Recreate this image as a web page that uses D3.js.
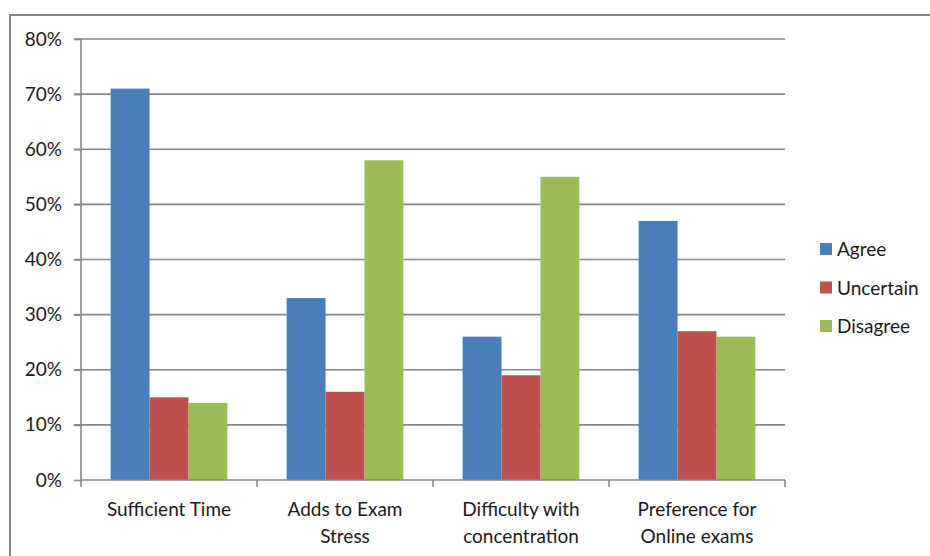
<!DOCTYPE html>
<html>
<head>
<meta charset="utf-8">
<script src="https://cdn.jsdelivr.net/npm/d3@7"></script>
<style>
  body { margin: 0; background: #fff; }
  svg { display: block; }
  text { font-family: Lato, "Open Sans", sans-serif; fill: #1a1a1a; }
</style>
</head>
<body>
<svg width="930" height="556"></svg>
<script>
// Data van de grafiek
const categories = [["Sufficient Time"], ["Adds to Exam", "Stress"], ["Difficulty with", "concentration"], ["Preference for", "Online exams"]];
const seriesNames = ["Agree", "Uncertain", "Disagree"];
const agree = [71, 33, 26, 47];
const uncertain = [15, 16, 19, 27];
const disagree = [14, 58, 55, 26];
const yTicks = [0, 10, 20, 30, 40, 50, 60, 70, 80];
const colors = ["#4a7ebb", "#c0504d", "#9bbb59"];

const svg = d3.select("svg");
const values = [agree, uncertain, disagree];
const fontSize = 19;

// Buitenrand
svg.append("rect")
  .attr("x", 10).attr("y", 15)
  .attr("width", 940).attr("height", 560)
  .attr("fill", "none")
  .attr("stroke", "#868686")
  .attr("stroke-width", 2);

// Schalen
const margin = { left: 81, right: 785, top: 39, bottom: 480 };
const x = d3.scaleBand()
  .domain(d3.range(categories.length))
  .range([margin.left, margin.right]);
const xInner = d3.scaleBand()
  .domain(d3.range(seriesNames.length))
  .range([0, x.bandwidth()])
  .paddingInner(0)
  .paddingOuter(0.76);
const y = d3.scaleLinear().domain([0, 80]).range([margin.bottom, margin.top]);

// Rasterlijnen
svg.append("g")
  .selectAll("line")
  .data(yTicks.filter(d => d > 0))
  .join("line")
  .attr("x1", margin.left - 7)
  .attr("x2", margin.right)
  .attr("y1", d => y(d))
  .attr("y2", d => y(d))
  .attr("stroke", "#868686")
  .attr("stroke-width", 1.6);

// Balken
values.forEach((serie, s) => {
  svg.append("g")
    .selectAll("rect")
    .data(serie)
    .join("rect")
    .attr("x", (d, i) => x(i) + xInner(s))
    .attr("y", d => y(d))
    .attr("width", xInner.bandwidth())
    .attr("height", d => y(0) - y(d))
    .attr("fill", colors[s]);
});

// Y-as
const yAxis = svg.append("g")
  .attr("transform", `translate(${margin.left},0)`)
  .call(d3.axisLeft(y).tickValues(yTicks).tickSize(7).tickPadding(12).tickFormat(d => d + "%"));
yAxis.selectAll("line, path").attr("stroke", "#868686").attr("stroke-width", 1.6);
yAxis.select(".domain").attr("d", `M0,${margin.top}V${margin.bottom}`);
yAxis.selectAll("text").attr("font-size", fontSize).attr("font-family", "Lato").attr("fill", "#1a1a1a");

// X-as
const xAxis = svg.append("g")
  .attr("transform", `translate(0,${margin.bottom})`);
xAxis.append("line")
  .attr("x1", margin.left).attr("x2", margin.right)
  .attr("stroke", "#868686").attr("stroke-width", 1.6);
xAxis.selectAll(".tick")
  .data(d3.range(categories.length + 1))
  .join("line")
  .attr("class", "tick")
  .attr("x1", i => i < categories.length ? x(i) : margin.right)
  .attr("x2", i => i < categories.length ? x(i) : margin.right)
  .attr("y1", 0).attr("y2", 7)
  .attr("stroke", "#868686").attr("stroke-width", 1.6);

xAxis.selectAll("text.cat")
  .data(categories)
  .join("text")
  .attr("class", "cat")
  .attr("text-anchor", "middle")
  .attr("font-size", fontSize)
  .attr("x", (d, i) => x(i) + x.bandwidth() / 2)
  .attr("y", 36)
  .selectAll("tspan")
  .data(d => d)
  .join("tspan")
  .attr("x", function () { return d3.select(this.parentNode).attr("x"); })
  .attr("dy", (d, i) => i === 0 ? 0 : 27)
  .text(d => d);

// Legenda
const legend = svg.append("g");
seriesNames.forEach((name, i) => {
  const ly = 249 + i * 38.5;
  legend.append("rect")
    .attr("x", 820).attr("y", ly - 6)
    .attr("width", 12).attr("height", 12)
    .attr("fill", colors[i]);
  legend.append("text")
    .attr("x", 837).attr("y", ly + 7)
    .attr("font-size", fontSize)
    .text(name);
});
</script>
</body>
</html>
